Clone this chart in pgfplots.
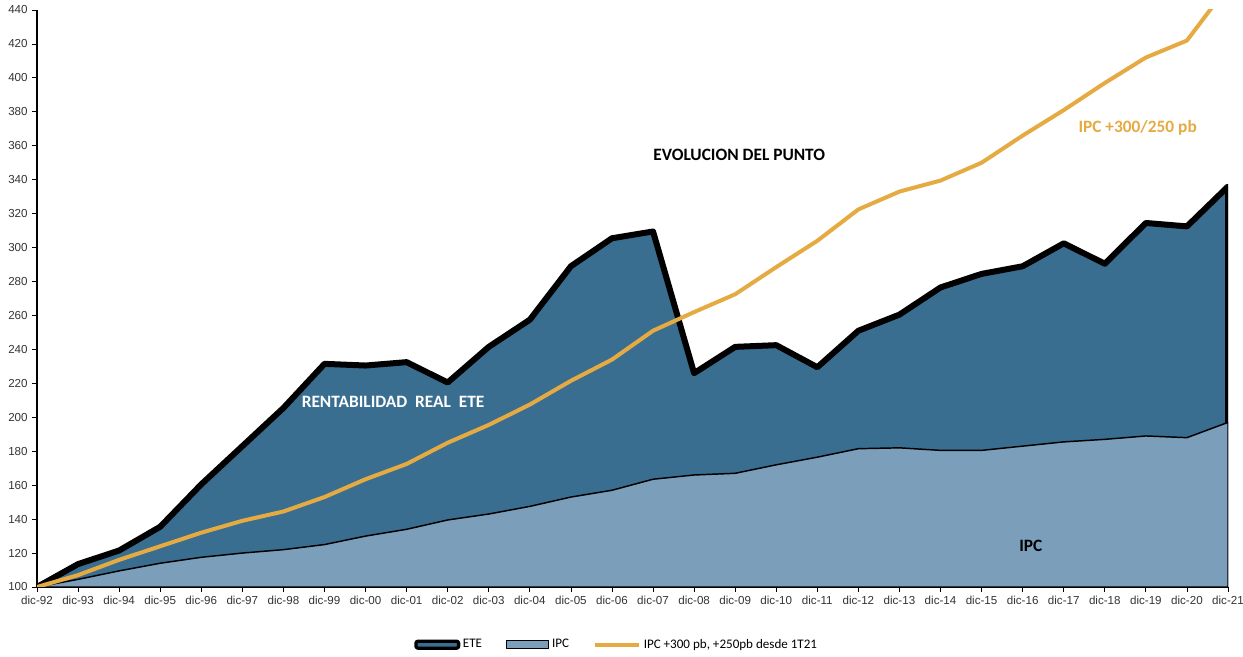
\documentclass[border=0pt]{standalone}
\usepackage{pgfplots}
\pgfplotsset{compat=1.18}
\usepackage{fontspec}
\setmainfont{Carlito}
\newfontfamily\arialf{Liberation Sans}
\definecolor{etecol}{RGB}{57,110,145}
\definecolor{ipccol}{RGB}{123,158,187}
\definecolor{orangecol}{RGB}{229,170,65}

\pgfplotstableread{
x ete ipc ora
0 100 100 100
1 113.5 104.5 107
2 121.5 109.5 116
3 135.5 114 124
4 160.5 117.5 132
5 183 120 139
6 205.5 122 144.5
7 231.5 125 153
8 230.5 130 163.5
9 232.5 134 172.5
10 220.5 139.5 185
11 241.5 143 195.5
12 257.5 147.5 207.5
13 289 153 221.5
14 305.5 157 234
15 309.5 163.5 251
16 226 166 262
17 241.5 167 272.5
18 242.5 172 288.5
19 229.5 176.5 304
20 251 181.5 322.5
21 260.5 182 333
22 276.5 180.5 339.5
23 284.5 180.5 350
24 289 183 366
25 302.5 185.5 381
26 290.5 187 397
27 314.5 189 412
28 312.5 188 422
29 336 197 454
}\datatable

\begin{document}
\begin{tikzpicture}
\path[use as bounding box] (0,0) rectangle (932.25pt,492.75pt);
\begin{axis}[
  at={(27.75pt,52.5pt)}, anchor=south west,
  scale only axis, width=893.25pt, height=432.75pt,
  xmin=0, xmax=29, ymin=100, ymax=440,
  xtick={0,...,29},
  xticklabels={dic-92,dic-93,dic-94,dic-95,dic-96,dic-97,dic-98,dic-99,dic-00,dic-01,dic-02,dic-03,dic-04,dic-05,dic-06,dic-07,dic-08,dic-09,dic-10,dic-11,dic-12,dic-13,dic-14,dic-15,dic-16,dic-17,dic-18,dic-19,dic-20,dic-21},
  ytick={100,120,...,440},
  axis x line*=bottom, axis y line*=left,
  x axis line style={line width=1.5pt},
  y axis line style={line width=1pt},
  tick align=outside, major tick length=3.5pt,
  tick style={black, line width=0.6pt},
  ticklabel style={font=\arialf\fontsize{8.7}{10}\selectfont, text=black!80},
  /pgf/number format/assume math mode=true,
  legend style={at={(0.487,-0.1)}, anchor=center, draw=none, fill=none,
    legend columns=3, font=\fontsize{9.8}{12}\selectfont,
    /tikz/every even column/.append style={column sep=16pt}},
  legend cell align=left,
]
\addplot[fill=etecol, draw=black, line width=4.5pt, line join=round,
  legend image code/.code={\draw[line width=2.5pt, fill=etecol, draw=black, rounded corners=1.5pt] (0pt,-2.6pt) rectangle (32pt,2.6pt);}]
  table[x=x, y=ete] {\datatable} \closedcycle;
\addlegendentry{ETE}
\addplot[fill=ipccol, draw=black, line width=1.1pt, line join=round,
  legend image code/.code={\draw[line width=1pt, fill=ipccol, draw=black] (0pt,-3pt) rectangle (31.5pt,3pt);}]
  table[x=x, y=ipc] {\datatable} \closedcycle;
\addlegendentry{IPC}
\addplot[draw=orangecol, line width=3pt, line join=round,
  legend image code/.code={\draw[line width=3pt, orangecol] (0pt,0pt) -- (33pt,0pt);}]
  table[x=x, y=ora] {\datatable};
\addlegendentry{IPC +300 pb, +250pb desde 1T21}

\node[font=\bfseries\fontsize{13}{15}\selectfont] at (axis cs:17.1,354.6) {EVOLUCION DEL PUNTO};
\node[font=\bfseries\fontsize{13}{15}\selectfont, text=white] at (axis cs:8.67,209) {RENTABILIDAD\ \ REAL\ \ ETE};
\node[font=\bfseries\fontsize{13}{15}\selectfont] at (axis cs:24.2,124.5) {IPC};
\node[font=\bfseries\fontsize{13}{15}\selectfont, text=orangecol] at (axis cs:26.8,370.5) {IPC +300/250 pb};
\end{axis}
\end{tikzpicture}
\end{document}
